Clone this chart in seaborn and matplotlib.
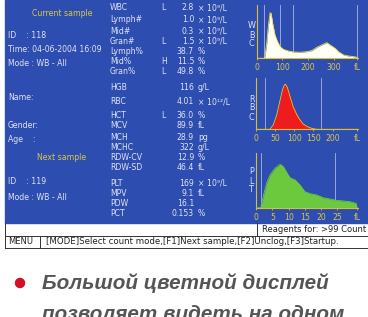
import matplotlib
matplotlib.use("Agg")
import matplotlib.pyplot as plt
from matplotlib.patches import Rectangle, Circle
import seaborn as sns

# Гистограммы (объём fL -> относительное число клеток)
wbc_fl = [0, 30, 32, 39, 45, 52, 56, 62, 71, 81, 91, 104, 123, 143, 169, 195, 214, 234, 253,
          273, 286, 305, 318, 338, 357, 377, 390, 395]
wbc_cnt = [0, 0, 5, 45, 95, 137, 135, 105, 70, 50, 35, 27, 22, 19, 18, 20, 23, 33, 40,
           47, 40, 30, 20, 10, 7, 5, 3, 0]

rbc_fl = [0, 36, 45, 54, 63, 69, 74, 77, 82, 89, 97, 106, 115, 123, 134, 145, 158, 265]
rbc_cnt = [0, 0, 13, 43, 88, 118, 133, 135, 125, 98, 68, 45, 28, 16, 8, 3, 0, 0]

plt_fl = [0, 1.5, 1.7, 2.5, 3.3, 4.3, 5.8, 7.4, 8.4, 9.4, 10.4, 12.0, 13.5, 15.0, 16.6, 18.6,
          20.6, 22.7, 24.8, 26.8, 28.8, 30.7, 31.0]
plt_cnt = [0, 0, 4, 15, 25, 32.7, 39.4, 43.4, 41, 35.4, 30, 27.7, 22.7, 16, 14, 12.7,
           10, 8.7, 7.3, 6.7, 6, 4.3, 0]

# Параметры анализа
par_names = ["WBC", "Lymph#", "Mid#", "Gran#", "Lymph%", "Mid%", "Gran%", "HGB",
             "RBC", "HCT", "MCV", "MCH", "MCHC", "RDW-CV", "RDW-SD",
             "PLT", "MPV", "PDW", "PCT"]
par_flags = ["L", "", "", "L", "", "H", "L", "", "", "L", "", "", "", "", "", "", "", "", ""]
par_values = ["2.8", "1.0", "0.3", "1.5", "38.7", "11.5", "49.8", "116",
              "4.01", "36.0", "89.9", "28.9", "322", "12.9", "46.4",
              "169", "9.1", "16.1", "0.153"]
par_units = ["× 10⁹/L", "× 10⁹/L", "× 10⁹/L", "× 10⁹/L", "%", "%", "%", "g/L",
             "× 10¹²/L", "%", "fL", "pg", "g/L", "%", "fL",
             "× 10⁹/L", "fL", "", "%"]
par_rows = [8, 20, 31, 41, 52, 62, 72, 88, 102, 115, 126, 137, 147, 157, 167, 183, 193, 203, 213]

W, H = 368, 317
BLUE = "#2e4db0"
TXT = "#dde4f0"
YEL = "#d8c848"
AXY = "#d8c030"
FS = 5.6

fig = plt.figure(figsize=(W / 100, H / 100), dpi=100)
bg = fig.add_axes([0, 0, 1, 1])
bg.set_xlim(0, W)
bg.set_ylim(H, 0)
bg.axis("off")

bg.add_patch(Rectangle((5, 0), W - 5, 223, color=BLUE, zorder=0))

# левая колонка
bg.text(62, 13, "Current sample", color=YEL, fontsize=FS, ha="center", va="center")
left_txt = [(36, "ID    : 118"), (50, "Time: 04-06-2004 16:09"), (63, "Mode : WB - All"),
            (97, "Name:"), (125, "Gender:"), (139, "Age    :"),
            (182, "ID    : 119"), (197, "Mode : WB - All")]
for y, t in left_txt:
    bg.text(8, y, t, color=TXT, fontsize=FS, va="center")
bg.text(62, 158, "Next sample", color=YEL, fontsize=FS, ha="center", va="center")

# таблица параметров
for n, f, v, u, y in zip(par_names, par_flags, par_values, par_units, par_rows):
    bg.text(110, y, n, color=TXT, fontsize=FS, va="center")
    bg.text(161, y, f, color=TXT, fontsize=FS, va="center")
    bg.text(194, y, v, color=TXT, fontsize=FS, va="center", ha="right")
    bg.text(198, y, u, color=TXT, fontsize=FS, va="center")

for letters, ys in [("WBC", [26, 35, 44]), ("RBC", [100, 108, 117]), ("PLT", [172, 181, 190])]:
    for ch, y in zip(letters, ys):
        bg.text(251.5, y, ch, color=TXT, fontsize=FS + 0.3, ha="center", va="center")


def hist_axes(x0, x1, top, base, xmax, ymax):
    ax = fig.add_axes([x0 / W, 1 - base / H, (x1 - x0) / W, (base - top) / H])
    ax.set_xlim(0, xmax)
    ax.set_ylim(0, ymax)
    ax.patch.set_alpha(0)
    for s in ["top", "right"]:
        ax.spines[s].set_visible(False)
    for s in ["left", "bottom"]:
        ax.spines[s].set_color(AXY)
        ax.spines[s].set_linewidth(0.8)
    ax.set_yticks([])
    ax.tick_params(axis="x", colors=AXY, labelcolor=YEL, labelsize=FS, length=1.5,
                   width=0.6, pad=2.2)
    return ax


def draw(ax, x, y, fill, edge, lines, ticks, labels):
    for d in lines:
        ax.axvline(d, color="#a8b4e0", lw=0.6, zorder=1)
    ax.fill_between(x, y, color=fill, zorder=2, lw=0)
    sns.lineplot(x=x, y=y, ax=ax, color=edge, lw=0.6, zorder=3)
    ax.set_xticks(ticks)
    ax.set_xticklabels(labels)
    ax.set_xlabel("")
    ax.set_ylabel("")


ax_w = hist_axes(256.7, 358.2, 5, 58.3, 395, 160)
draw(ax_w, wbc_fl, wbc_cnt, "#fffff4", "#f0e040", [29, 91, 143, 392],
     [0, 100, 200, 300, 390], ["0", "100", "200", "300", "fL"])

ax_r = hist_axes(256, 357.5, 78.3, 129.3, 265, 153)
draw(ax_r, rbc_fl, rbc_cnt, "#ee1c1c", "#f0c030", [23.5, 171],
     [0, 50, 100, 150, 200, 264], ["0", "50", "100", "150", "200", "fL"])

ax_p = hist_axes(256, 357.7, 153.3, 207.7, 31.2, 54.4)
draw(ax_p, plt_fl, plt_cnt, "#6cc83c", "#6cc83c", [1.4, 24.2],
     [0, 5, 10, 15, 20, 25, 31], ["0", "5", "10", "15", "20", "25", "fL"])

# нижняя строка меню
lc = "#333333"
bg.plot([5, W], [236, 236], color=lc, lw=0.7)
bg.plot([5, W], [248, 248], color=lc, lw=0.7)
bg.plot([5, 5], [223, 248], color=lc, lw=0.7)
bg.plot([257, 257], [223, 236], color=lc, lw=0.7)
bg.plot([40, 40], [236, 248], color=lc, lw=0.7)
bg.text(262, 229.5, "Reagents for: >99 Count", color="#222222", fontsize=6.0, va="center")
bg.text(8, 242, "MENU", color="#222222", fontsize=6.0, va="center")
bg.text(46, 242, "[MODE]Select count mode,[F1]Next sample,[F2]Unclog,[F3]Startup.",
        color="#222222", fontsize=6.2, va="center")

# подпись
bg.add_patch(Circle((20, 283), 4.5, color="#d01020"))
bg.text(42, 283, "Большой цветной дисплей", fontsize=14.9, fontweight="bold",
        fontstyle="italic", family="Liberation Sans", color="#555555", va="center")
bg.text(42, 314, "позволяет видеть на одном", fontsize=14.9, fontweight="bold",
        fontstyle="italic", family="Liberation Sans", color="#555555", va="center")

fig.savefig("out.png", dpi=100)
